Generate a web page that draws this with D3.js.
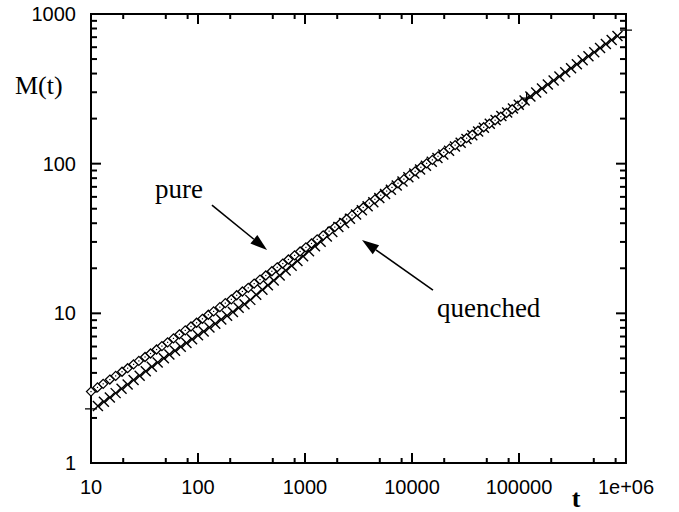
<!DOCTYPE html>
<html>
<head>
<meta charset="utf-8">
<script src="https://cdn.jsdelivr.net/npm/d3@7"></script>
<style>
body { margin: 0; background: #fff; }
svg { display: block; }
</style>
</head>
<body>
<div id="chartContainer"></div>
<script>
// pure system (diamonds)
var pureT = [10, 11.5, 13, 15, 17, 19.5, 22, 25, 28, 32, 36, 41, 46, 52, 59, 67, 76, 86, 97,
    110, 125, 140, 160, 180, 205, 230, 260, 295, 335, 380, 430, 490, 550, 620, 700, 800, 900,
    1020, 1150, 1300, 1480, 1680, 1900, 2150, 2450, 2750, 3100, 3500, 4000, 4500, 5100, 5800,
    6500, 7400, 8400, 9500, 10700, 12100, 13700, 15500, 17500, 19800, 22400, 25300, 28600,
    32400, 36600, 41400, 46800, 52900, 59800, 67600, 76400, 86400, 97700, 107000];
var pureM = [3.00, 3.20, 3.38, 3.61, 3.82, 4.07, 4.30, 4.56, 4.81, 5.11, 5.39, 5.73, 6.04, 6.40,
    6.80, 7.24, 7.69, 8.17, 8.65, 9.19, 9.78, 10.3, 11.0, 11.7, 12.4, 13.2, 14.0, 14.8, 15.8,
    16.8, 17.9, 19.1, 20.3, 21.5, 22.9, 24.4, 25.9, 27.6, 29.3, 31.2, 33.2, 35.4, 37.7, 40.0,
    42.7, 45.3, 48.0, 51.0, 54.5, 57.8, 61.5, 65.6, 69.4, 74.0, 78.8, 83.8, 88.9, 94.6, 100.5,
    106, 112, 119, 126, 133, 140, 148, 156, 166, 175, 185, 195, 206, 218, 231, 244, 254];

// quenched system (crosses)
var quenchedT = [11.6, 13.2, 15, 17, 19.3, 22, 25, 28.5, 32.5, 37, 42, 48, 54, 61, 69, 78, 88,
    100, 113, 128, 145, 165, 187, 212, 240, 272, 308, 350, 400, 450, 510, 580, 660, 750, 850,
    960, 1090, 1240, 1400, 1600, 1800, 2050, 2320, 2630, 3000, 3400, 3850, 4350, 4950, 5600,
    6350, 7200, 8150, 9250, 10500, 11900, 13500, 15300, 17300, 19600, 22200, 25200, 28500,
    32300, 36600, 41500, 47000, 53300, 60400, 68400, 77500, 87800, 99500, 112800, 127800,
    144800, 164000, 186000, 210700, 238700, 270500, 306500, 347300, 393500, 445800, 505000,
    572300, 648400, 734700, 832500];
var quenchedM = [2.40, 2.57, 2.74, 2.93, 3.13, 3.35, 3.58, 3.83, 4.10, 4.39, 4.69, 5.01, 5.31,
    5.62, 5.97, 6.33, 6.71, 7.13, 7.57, 8.04, 8.53, 9.08, 9.64, 10.2, 10.9, 11.5, 12.3, 13.3,
    14.4, 15.4, 16.6, 17.9, 19.3, 20.8, 22.4, 24.1, 26.0, 28.1, 30.1, 32.6, 34.9, 37.8, 40.2,
    42.8, 45.8, 48.8, 52.0, 55.3, 59.0, 62.8, 67.0, 71.4, 76.0, 81.0, 86.1, 91.3, 96.8, 103,
    109, 115, 122, 130, 138, 146, 155, 164, 174, 185, 196, 208, 220, 234, 248, 264, 281, 299,
    318, 338, 360, 383, 408, 434, 462, 491, 523, 556, 592, 630, 670, 713];
// the few points drawn with "+"
var quenchedPlusT = [10, 118000, 1000000];
var quenchedPlusM = [2.3, 274, 780];

var xTicks = [10, 100, 1000, 10000, 100000, 1000000];
var xTickLabels = ["10", "100", "1000", "10000", "100000", "1e+06"];
var yTicks = [1, 10, 100, 1000];
var yTickLabels = ["1", "10", "100", "1000"];

// annotations, in data units: [t, M]
var pureLabelAt = [39.7, 58.9];
var pureArrow = [[135, 52.9], [442, 26.5]];
var quenchedLabelAt = [17100, 9.5];
var quenchedArrow = [[15700, 14.3], [3410, 30.9]];

var width = 679, height = 512;
var plotLeft = 91, plotRight = 626, plotTop = 14, plotBottom = 463;

var svg = d3.select("#chartContainer").append("svg")
    .attr("width", width)
    .attr("height", height);
svg.append("rect").attr("width", width).attr("height", height).attr("fill", "#fff");

var x = d3.scaleLog().domain([10, 1e6]).range([plotLeft, plotRight]);
var y = d3.scaleLog().domain([1, 1000]).range([plotBottom, plotTop]);

var tickFont = "'Liberation Sans', Arial, Helvetica, sans-serif";
var textFont = "'Liberation Serif', 'Times New Roman', Times, serif";

// minor ticks: x at 2,5,8 per decade, y at every integer
var xMinor = [], yMinor = [];
xTicks.slice(0, -1).forEach(function(d){
    [2, 5, 8].forEach(function(k){ xMinor.push(d * k); });
});
yTicks.slice(0, -1).forEach(function(d){
    for(var k = 2; k <= 9; k++){ yMinor.push(d * k); }
});

var g = svg.append("g")
    .attr("stroke", "#000")
    .attr("stroke-width", 2)
    .attr("fill", "none");

function xTickLines(vals, len){
    vals.forEach(function(v){
        var px = x(v);
        g.append("line").attr("x1", px).attr("x2", px).attr("y1", plotBottom).attr("y2", plotBottom - len);
        g.append("line").attr("x1", px).attr("x2", px).attr("y1", plotTop).attr("y2", plotTop + len);
    });
}
function yTickLines(vals, len){
    vals.forEach(function(v){
        var py = y(v);
        g.append("line").attr("x1", plotLeft).attr("x2", plotLeft + len).attr("y1", py).attr("y2", py);
        g.append("line").attr("x1", plotRight).attr("x2", plotRight - len).attr("y1", py).attr("y2", py);
    });
}
xTickLines(xTicks, 10);
xTickLines(xMinor, 5);
yTickLines(yTicks, 10);
yTickLines(yMinor, 6);

g.append("rect")
    .attr("x", plotLeft).attr("y", plotTop)
    .attr("width", plotRight - plotLeft).attr("height", plotBottom - plotTop);

// tick labels
svg.selectAll(".xlab").data(xTicks).enter().append("text")
    .attr("x", function(d){ return x(d); })
    .attr("y", plotBottom + 31)
    .attr("text-anchor", "middle")
    .style("font-family", tickFont)
    .style("font-size", "20px")
    .text(function(d, i){ return xTickLabels[i]; });

svg.selectAll(".ylab").data(yTicks).enter().append("text")
    .attr("x", plotLeft - 15)
    .attr("y", function(d){ return y(d) + 7; })
    .attr("text-anchor", "end")
    .style("font-family", tickFont)
    .style("font-size", "20px")
    .text(function(d, i){ return yTickLabels[i]; });

// axis titles
svg.append("text").attr("x", 15).attr("y", 94)
    .style("font-family", textFont).style("font-size", "26px")
    .text("M(t)");
svg.append("text").attr("x", 576).attr("y", 507)
    .attr("text-anchor", "middle")
    .style("font-family", textFont).style("font-size", "26px").style("font-weight", "bold")
    .text("t");

// quenched: x crosses
var cross = svg.append("g").attr("stroke", "#000").attr("stroke-width", 1.4);
quenchedT.forEach(function(t, i){
    var cx = x(t), cy = y(quenchedM[i]), r = 5;
    cross.append("path")
        .attr("d", "M" + (cx - r) + "," + (cy - r) + "L" + (cx + r) + "," + (cy + r) +
                   "M" + (cx - r) + "," + (cy + r) + "L" + (cx + r) + "," + (cy - r));
});
quenchedPlusT.forEach(function(t, i){
    var cx = x(t), cy = y(quenchedPlusM[i]), r = 6;
    cross.append("path")
        .attr("d", "M" + (cx - r) + "," + cy + "L" + (cx + r) + "," + cy +
                   "M" + cx + "," + (cy - r) + "L" + cx + "," + (cy + r));
});

// pure: open diamonds with a dot
var dia = svg.append("g");
pureT.forEach(function(t, i){
    var cx = x(t), cy = y(pureM[i]), r = 4.5;
    dia.append("path")
        .attr("d", "M" + cx + "," + (cy - r) + "L" + (cx + r) + "," + cy + "L" + cx + "," + (cy + r) +
                   "L" + (cx - r) + "," + cy + "Z")
        .attr("fill", "#fff").attr("stroke", "#000").attr("stroke-width", 1.3);
    dia.append("rect").attr("x", cx - 0.6).attr("y", cy - 0.6).attr("width", 1.2).attr("height", 1.2)
        .attr("fill", "#000");
});

// annotations
function drawArrow(a){
    var x1 = x(a[0][0]), y1 = y(a[0][1]), x2 = x(a[1][0]), y2 = y(a[1][1]);
    var ang = Math.atan2(y2 - y1, x2 - x1);
    var len = 17, half = 5.5;
    var bx = x2 - len * Math.cos(ang), by = y2 - len * Math.sin(ang);
    svg.append("line").attr("x1", x1).attr("y1", y1).attr("x2", bx).attr("y2", by)
        .attr("stroke", "#000").attr("stroke-width", 1.6);
    svg.append("path")
        .attr("d", "M" + x2 + "," + y2 +
            "L" + (bx + half * Math.sin(ang)) + "," + (by - half * Math.cos(ang)) +
            "L" + (bx - half * Math.sin(ang)) + "," + (by + half * Math.cos(ang)) + "Z")
        .attr("fill", "#000");
}
drawArrow(pureArrow);
drawArrow(quenchedArrow);

svg.append("text").attr("x", x(pureLabelAt[0])).attr("y", y(pureLabelAt[1]))
    .style("font-family", textFont).style("font-size", "27px")
    .text("pure");
svg.append("text").attr("x", x(quenchedLabelAt[0])).attr("y", y(quenchedLabelAt[1]))
    .style("font-family", textFont).style("font-size", "27px")
    .text("quenched");
</script>
</body>
</html>
